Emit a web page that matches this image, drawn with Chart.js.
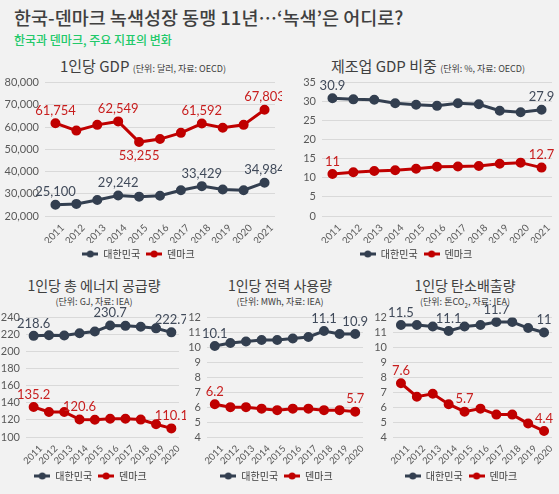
<!DOCTYPE html>
<html>
<head>
<meta charset="utf-8">
<script src="https://cdn.jsdelivr.net/npm/chart.js@4.4.1/dist/chart.umd.min.js"></script>
<style>
  body { margin: 0; width: 559px; height: 494px; overflow: hidden; position: relative; background: #f2f2f2; font-family: 'Noto Sans CJK KR', sans-serif; }
  .box { position: absolute; }
  .ttl { position: absolute; text-align: center; color: #404040; white-space: nowrap; }
  .ttl small { font-size: 9px; }
  .sub { position: absolute; text-align: center; color: #404040; font-size: 9px; white-space: nowrap; }
</style>
</head>
<body>
<div style="position:absolute;left:14px;top:4px;font-size:18.5px;color:#404040;font-weight:500;white-space:nowrap">한국-덴마크 녹색성장 동맹 11년…‘녹색’은 어디로?</div>
<div style="position:absolute;left:14px;top:31px;font-size:12px;color:#22c96a;font-weight:500;white-space:nowrap">한국과 덴마크, 주요 지표의 변화</div>

<div class="ttl" style="left:0;width:286px;top:55px;font-size:15px">1인당 GDP <small>(단위: 달러, 자료: OECD)</small></div>
<div class="ttl" style="left:280px;width:296px;top:55px;font-size:15px">제조업 GDP 비중 <small>(단위: %, 자료: OECD)</small></div>

<div class="ttl" style="left:0;width:188px;top:275px;font-size:14px">1인당 총 에너지 공급량</div>
<div class="sub" style="left:0;width:188px;top:295px">(단위: GJ, 자료: IEA)</div>
<div class="ttl" style="left:186px;width:188px;top:275px;font-size:14px">1인당 전력 사용량</div>
<div class="sub" style="left:186px;width:188px;top:295px">(단위: MWh, 자료: IEA)</div>
<div class="ttl" style="left:371px;width:188px;top:275px;font-size:14px">1인당 탄소배출량</div>
<div class="sub" style="left:371px;width:188px;top:295px">(단위: 톤CO<sub style="font-size:6px">2</sub>, 자료: IEA)</div>

<div class="box" style="left:0;top:70px;width:282px;height:199px"><canvas id="gdpChart"></canvas></div>
<div class="box" style="left:280px;top:70px;width:279px;height:199px"><canvas id="mfgChart"></canvas></div>
<div class="box" style="left:0;top:305px;width:186px;height:186px"><canvas id="energyChart"></canvas></div>
<div class="box" style="left:186px;top:305px;width:184px;height:186px"><canvas id="powerChart"></canvas></div>
<div class="box" style="left:370px;top:305px;width:189px;height:186px"><canvas id="carbonChart"></canvas></div>

<script>
const years11 = ['2011', '2012', '2013', '2014', '2015', '2016', '2017', '2018', '2019', '2020', '2021'];
const years10 = years11.slice(0, 10);

const gdpKorea = [25100, 25450, 27200, 29242, 28700, 29100, 31600, 33429, 31900, 31600, 34984];
const gdpDenmark = [61754, 58400, 61000, 62549, 53255, 54600, 57400, 61592, 59700, 61000, 67803];

const mfgKorea = [30.9, 30.6, 30.5, 29.6, 29.2, 28.9, 29.6, 29.3, 27.6, 27.2, 27.9];
const mfgDenmark = [11, 11.5, 11.8, 12.0, 12.4, 12.9, 13.0, 13.1, 13.7, 14.0, 12.7];

const energyKorea = [218.6, 219.4, 219.0, 221.6, 223.6, 230.7, 230.3, 229.3, 227.4, 222.7];
const energyDenmark = [135.2, 129.4, 129.3, 120.6, 120.3, 121.5, 121.3, 120.4, 114.9, 110.1];

const powerKorea = [10.1, 10.3, 10.4, 10.5, 10.5, 10.6, 10.7, 11.1, 10.9, 10.9];
const powerDenmark = [6.2, 6.0, 6.0, 5.9, 5.8, 5.9, 5.9, 5.8, 5.8, 5.7];

const carbonKorea = [11.5, 11.5, 11.4, 11.1, 11.4, 11.5, 11.7, 11.7, 11.3, 11];
const carbonDenmark = [7.6, 6.7, 6.9, 6.2, 5.7, 5.9, 5.5, 5.5, 4.9, 4.4];

const navy = '#333f50';
const red = '#c00000';
const numFont = "Lato, 'Noto Sans CJK KR', sans-serif";

// legend marker: a short line with a dot in the middle
function marker(color) {
  const c = document.createElement('canvas');
  c.width = 16; c.height = 8;
  const g = c.getContext('2d');
  g.strokeStyle = color; g.lineWidth = 3;
  g.beginPath(); g.moveTo(0, 4); g.lineTo(16, 4); g.stroke();
  g.fillStyle = color;
  g.beginPath(); g.arc(8, 4, 3.5, 0, Math.PI * 2); g.fill();
  return c;
}

// value labels on selected points
const pointLabels = {
  id: 'pointLabels',
  afterDatasetsDraw(chart) {
    const ctx = chart.ctx;
    chart.data.datasets.forEach((ds, i) => {
      const meta = chart.getDatasetMeta(i);
      ctx.save();
      ctx.font = '13px ' + numFont;
      ctx.fillStyle = ds.labelColor;
      ctx.textAlign = 'center';
      (ds.labelAt || []).forEach(idx => {
        const p = meta.data[idx];
        const v = ds.data[idx];
        const txt = v >= 1000 ? v.toLocaleString('en-US') : String(v);
        if ((ds.below || []).includes(idx)) {
          ctx.textBaseline = 'top';
          ctx.fillText(txt, p.x, p.y + 7);
        } else {
          ctx.textBaseline = 'bottom';
          ctx.fillText(txt, p.x, p.y - 6);
        }
      });
      ctx.restore();
    });
  }
};

function makeChart(id, labels, korea, denmark, opt) {
  const ds = (name, data, color, labelColor, at, below) => ({
    label: name,
    data: data,
    borderColor: color,
    backgroundColor: color,
    borderWidth: 3,
    pointRadius: 3.5,
    pointHoverRadius: 4,
    labelColor: labelColor,
    labelAt: at,
    below: below || []
  });
  new Chart(document.getElementById(id), {
    type: 'line',
    data: {
      labels: labels,
      datasets: [
        ds('대한민국', korea, navy, '#404a5a', opt.koreaAt),
        ds('덴마크', denmark, red, '#c81e1e', opt.denmarkAt, opt.denmarkBelow)
      ]
    },
    options: {
      responsive: true,
      maintainAspectRatio: false,
      animation: false,
      layout: { padding: opt.padding },
      plugins: {
        tooltip: { enabled: false },
        legend: {
          position: 'bottom',
          labels: {
            usePointStyle: true,
            pointStyleWidth: 16,
            padding: 6,
            color: '#404040',
            font: { size: 10, family: "'Noto Sans CJK KR', sans-serif" },
            generateLabels: function (chart) {
              return Chart.defaults.plugins.legend.labels.generateLabels(chart).map(item => {
                item.pointStyle = marker(item.strokeStyle);
                return item;
              });
            }
          }
        }
      },
      scales: {
        x: {
          offset: true,
          grid: { display: false },
          border: { display: false },
          ticks: {
            autoSkip: false, minRotation: 45, maxRotation: 45,
            labelOffset: 7, padding: -2,
            color: '#595959', font: { size: opt.xFont, family: numFont }
          },
          afterFit: s => { s.height = opt.xHeight; }
        },
        y: {
          min: opt.min,
          max: opt.max,
          grid: { color: '#d9d9d9', drawTicks: false },
          border: { display: false },
          ticks: {
            autoSkip: false,
            stepSize: opt.step,
            padding: 6,
            color: '#595959',
            font: { size: 11, family: numFont },
            callback: v => v >= 1000 ? v.toLocaleString('en-US') : v
          },
          afterFit: s => { s.width = opt.yWidth; }
        }
      }
    },
    plugins: [pointLabels]
  });
}

makeChart('gdpChart', years11, gdpKorea, gdpDenmark, {
  min: 20000, max: 80000, step: 10000, yWidth: 45, xHeight: 27, xFont: 10,
  padding: { top: 10, right: 5, bottom: 0 },
  koreaAt: [0, 3, 7, 10], denmarkAt: [0, 3, 4, 7, 10], denmarkBelow: [4]
});
makeChart('mfgChart', years11, mfgKorea, mfgDenmark, {
  min: 0, max: 35, step: 5, yWidth: 42, xHeight: 27, xFont: 10,
  padding: { top: 12, right: 7, bottom: 0 },
  koreaAt: [0, 10], denmarkAt: [0, 10]
});
makeChart('energyChart', years10, energyKorea, energyDenmark, {
  min: 100, max: 240, step: 20, yWidth: 26, xHeight: 28, xFont: 9.5,
  padding: { top: 10, right: 5, bottom: 0 },
  koreaAt: [0, 5, 9], denmarkAt: [0, 3, 9]
});
makeChart('powerChart', years10, powerKorea, powerDenmark, {
  min: 4, max: 12, step: 1, yWidth: 21, xHeight: 28, xFont: 9.5,
  padding: { top: 10, right: 3, bottom: 0 },
  koreaAt: [0, 7, 9], denmarkAt: [0, 9]
});
makeChart('carbonChart', years10, carbonKorea, carbonDenmark, {
  min: 4, max: 12, step: 1, yWidth: 23, xHeight: 28, xFont: 9.5,
  padding: { top: 10, right: 7, bottom: 0 },
  koreaAt: [0, 3, 6, 9], denmarkAt: [0, 4, 9]
});
</script>
</body>
</html>
